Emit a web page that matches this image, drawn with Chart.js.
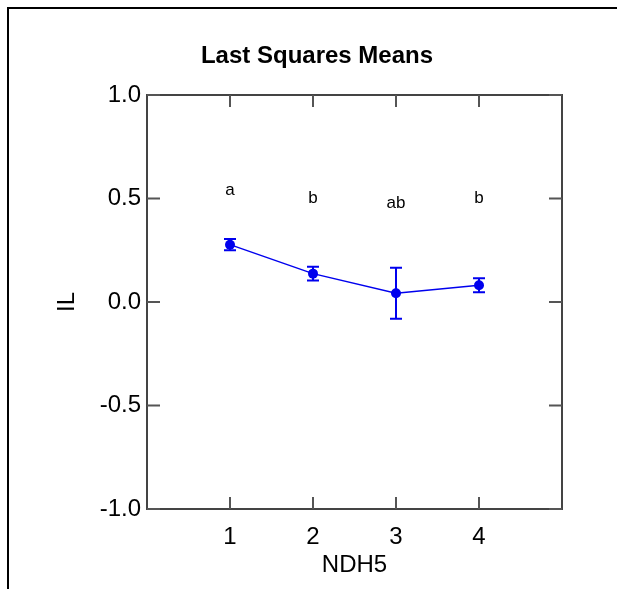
<!DOCTYPE html>
<html><head><meta charset="utf-8">
<style>
html,body{margin:0;padding:0;background:#fff;}
#wrap{position:relative;width:617px;height:589px;}
#frame{position:absolute;left:7px;top:7px;width:700px;height:700px;border-top:2px solid #000;border-left:2px solid #000;box-sizing:border-box;}
canvas{position:absolute;left:0;top:0;}
</style>
<script src="https://cdn.jsdelivr.net/npm/chart.js@4/dist/chart.umd.min.js"></script>
</head><body>
<div id="wrap"><div id="frame"></div><canvas id="c" width="617" height="589"></canvas></div>
<script>
const categories = [1, 2, 3, 4];
const means = [0.277, 0.137, 0.042, 0.081];
const errors = [0.027, 0.033, 0.123, 0.034];
const groupLetters = ['a', 'b', 'ab', 'b'];
const letterY = [0.54, 0.50, 0.476, 0.50];
const yTicks = [-1.0, -0.5, 0.0, 0.5, 1.0];
const xTicks = [1, 2, 3, 4];
const titleText = 'Last Squares Means';
const xTitle = 'NDH5';
const yTitle = 'IL';

const FONT = 'Liberation Sans, Arial, sans-serif';
const BLUE = '#0000ee';

const decor = {
  id: 'decor',
  afterDatasetsDraw(chart) {
    const ctx = chart.ctx, xs = chart.scales.x, ys = chart.scales.y, a = chart.chartArea;
    ctx.save();
    // error bars
    ctx.strokeStyle = BLUE; ctx.lineWidth = 2;
    categories.forEach((c, i) => {
      const x = xs.getPixelForValue(c);
      const yt = ys.getPixelForValue(means[i] + errors[i]);
      const yb = ys.getPixelForValue(means[i] - errors[i]);
      ctx.beginPath();
      ctx.moveTo(x, yt); ctx.lineTo(x, yb);
      ctx.moveTo(x - 6, yt); ctx.lineTo(x + 6, yt);
      ctx.moveTo(x - 6, yb); ctx.lineTo(x + 6, yb);
      ctx.stroke();
    });
    // letters
    ctx.fillStyle = '#000'; ctx.font = '17px ' + FONT;
    ctx.textAlign = 'center'; ctx.textBaseline = 'middle';
    categories.forEach((c, i) => {
      ctx.fillText(groupLetters[i], xs.getPixelForValue(c), ys.getPixelForValue(letterY[i]));
    });
    // frame
    ctx.strokeStyle = '#444'; ctx.lineWidth = 2;
    ctx.strokeRect(a.left, a.top, a.right - a.left, a.bottom - a.top);
    // inside ticks
    ctx.strokeStyle = '#555'; ctx.lineWidth = 2;
    ctx.beginPath();
    yTicks.forEach(v => {
      const y = ys.getPixelForValue(v);
      ctx.moveTo(a.left, y); ctx.lineTo(a.left + 13, y);
      ctx.moveTo(a.right, y); ctx.lineTo(a.right - 13, y);
    });
    xTicks.forEach(v => {
      const x = xs.getPixelForValue(v);
      ctx.moveTo(x, a.bottom); ctx.lineTo(x, a.bottom - 12);
      ctx.moveTo(x, a.top); ctx.lineTo(x, a.top + 12);
    });
    ctx.stroke();
    // titles
    ctx.fillStyle = '#000';
    ctx.font = 'bold 24px ' + FONT;
    ctx.textAlign = 'center'; ctx.textBaseline = 'middle';
    ctx.fillText(titleText, 317, 56);
    ctx.font = '24px ' + FONT;
    ctx.fillText(xTitle, (a.left + a.right) / 2, 565);
    ctx.translate(67, (a.top + a.bottom) / 2);
    ctx.rotate(-Math.PI / 2);
    ctx.fillText(yTitle, 0, 0);
    ctx.restore();
  }
};

new Chart(document.getElementById('c'), {
  type: 'line',
  data: {
    datasets: [{
      data: categories.map((c, i) => ({x: c, y: means[i]})),
      borderColor: BLUE, backgroundColor: BLUE,
      borderWidth: 1.5, pointRadius: 5, pointHoverRadius: 5,
      pointBorderWidth: 0, tension: 0
    }]
  },
  options: {
    responsive: false, animation: false, devicePixelRatio: 1,
    layout: {padding: {top: 95, right: 55, left: 0, bottom: 0}},
    plugins: {legend: {display: false}, tooltip: {enabled: false}, title: {display: false}},
    scales: {
      x: {
        type: 'linear', min: 0, max: 5,
        afterBuildTicks: s => { s.ticks = xTicks.map(v => ({value: v})); },
        afterFit: s => { s.height = 80; },
        grid: {display: false, drawTicks: false},
        border: {display: false},
        ticks: {color: '#000', font: {family: FONT, size: 24}, padding: 14, callback: v => String(v)}
      },
      y: {
        type: 'linear', min: -1, max: 1,
        afterBuildTicks: s => { s.ticks = yTicks.map(v => ({value: v})); },
        afterFit: s => { s.width = 147; },
        grid: {display: false, drawTicks: false},
        border: {display: false},
        ticks: {color: '#000', font: {family: FONT, size: 24}, padding: 6, callback: v => Number(v).toFixed(1)}
      }
    }
  },
  plugins: [decor]
});
</script>
</body></html>
